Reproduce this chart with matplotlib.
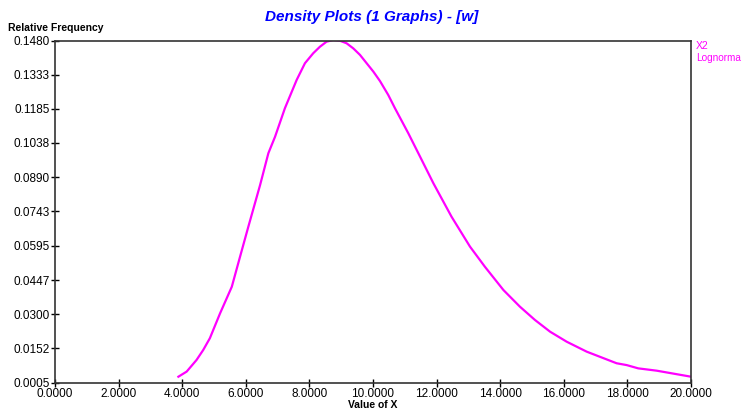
import matplotlib.pyplot as plt

# curve
x_vals = [3.88, 4.14, 4.45, 4.66, 4.87, 5.19, 5.56, 5.82, 6.08, 6.45, 6.71, 6.92,
          7.23, 7.60, 7.86, 8.12, 8.33, 8.54, 8.75, 8.96, 9.17, 9.38, 9.59, 9.80,
          10.01, 10.22, 10.48, 10.69, 11.11, 11.48, 11.90, 12.47, 13.05, 13.52,
          14.10, 14.62, 15.09, 15.57, 16.09, 16.72, 17.66, 17.98, 18.34, 18.92,
          20.00]
y_vals = [0.0030, 0.0052, 0.0102, 0.0145, 0.0196, 0.0303, 0.0418, 0.0548, 0.0677,
          0.0857, 0.0994, 0.1065, 0.1188, 0.1310, 0.1382, 0.1425, 0.1453, 0.1475,
          0.1482, 0.1479, 0.1468, 0.1446, 0.1418, 0.1382, 0.1346, 0.1305, 0.1245,
          0.1188, 0.1080, 0.0979, 0.0864, 0.0720, 0.0591, 0.0504, 0.0404, 0.0332,
          0.0275, 0.0224, 0.0181, 0.0138, 0.0088, 0.0080, 0.0066, 0.0056, 0.0030]

x_ticks = [0, 2, 4, 6, 8, 10, 12, 14, 16, 18, 20]
y_ticks = [0.0005, 0.0152, 0.0300, 0.0447, 0.0595, 0.0743, 0.0890, 0.1038,
           0.1185, 0.1333, 0.1480]

plt.rcParams['font.family'] = ['Liberation Sans', 'DejaVu Sans']
magenta = '#ff00ff'

fig = plt.figure(figsize=(7.43, 4.13), dpi=100)
ax = fig.add_axes([55/743, 1 - 382.5/413, 636/743, 342/413])

ax.plot(x_vals, y_vals, color=magenta, linewidth=1.6, solid_joinstyle='round')

ax.set_xlim(0, 20)
ax.set_ylim(0.0005, 0.1480)
ax.set_xticks(x_ticks)
ax.set_xticklabels([f'{v:.4f}' for v in x_ticks])
ax.set_yticks(y_ticks)
ax.set_yticklabels([f'{v:.4f}' for v in y_ticks])
ax.tick_params(direction='inout', length=6, width=1, labelsize=8.5, pad=1,
               colors='black')
for s in ax.spines.values():
    s.set_color('#333333')
    s.set_linewidth(1.2)

fig.text(372/743, 1 - 17/413, 'Density Plots (1 Graphs) - [w]', color='#0000ff',
         fontsize=11, fontweight='bold', fontstyle='italic', ha='center', va='center')
fig.text(8/743, 1 - 28/413, 'Relative Frequency', fontsize=7.5, fontweight='bold',
         ha='left', va='center')
fig.text(373/743, 1 - 405/413, 'Value of X', fontsize=7.5, fontweight='bold',
         ha='center', va='center')
# legend text is cut at the right edge in the reference
fig.text(696/743, 1 - 46/413, 'X2', color=magenta, fontsize=7.5, ha='left', va='center')
fig.text(696/743, 1 - 58/413, 'Lognorma', color=magenta, fontsize=7.2, ha='left', va='center')

fig.savefig('out.png', dpi=100)
